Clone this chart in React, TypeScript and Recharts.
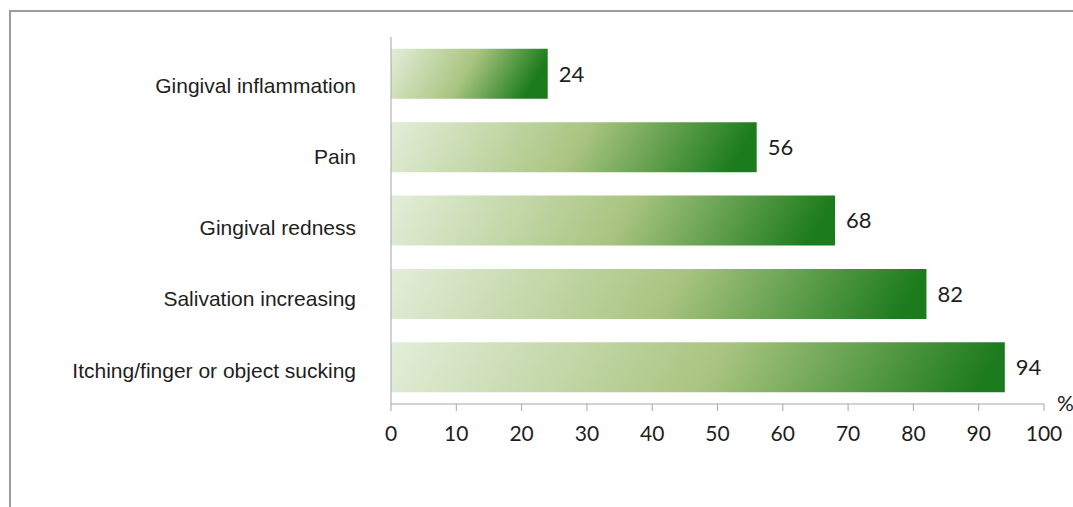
import React from "react";
import { BarChart, Bar, XAxis, YAxis, LabelList, Cell } from "recharts";

const categories = [
  "Gingival inflammation",
  "Pain",
  "Gingival redness",
  "Salivation increasing",
  "Itching/finger or object sucking",
];
const percentValues = [24, 56, 68, 82, 94];
const xTicks = [0, 10, 20, 30, 40, 50, 60, 70, 80, 90, 100];

const data = categories.map((name, i) => ({ name, value: percentValues[i] }));

const AXIS = "#a6a6a6";

// category labels in the original sit a bit lower than the bar centres, less so further down
function CategoryTick({ x, y, payload, index }: any) {
  const shift = 12 - 2.3 * index;
  return (
    <text
      x={x}
      y={y + shift}
      dy="0.355em"
      textAnchor="end"
      fontFamily="Liberation Sans"
      fontSize={21}
      fill="#1e1e1e"
    >
      {payload.value}
    </text>
  );
}

export default function App() {
  return (
    <div
      style={{
        position: "fixed",
        left: 0,
        top: 0,
        width: 1073,
        height: 507,
        overflow: "hidden",
        background: "#fff",
      }}
    >
      <div
        style={{
          position: "absolute",
          left: 9,
          top: 10,
          width: 1200,
          height: 700,
          border: "2px solid #9c9c9c",
          boxSizing: "border-box",
        }}
      />
      <div style={{ position: "absolute", left: 0, top: 0 }}>
        <BarChart
          width={1073}
          height={507}
          data={data}
          layout="vertical"
          margin={{ top: 37, right: 29, bottom: 63, left: 0 }}
          barCategoryGap="16%"
        >
          <defs>
            {percentValues.map((v, i) => (
              // keep the shading slant similar on short and long bars
              <linearGradient key={i} id={`green${i}`} x1="0" y1="0" x2="1" y2={Math.min(1, 4.5 / v)}>
                <stop offset="0%" stopColor="#e3eed9" />
                <stop offset="55%" stopColor="#a9c480" />
                <stop offset="100%" stopColor="#1c7b1c" />
              </linearGradient>
            ))}
          </defs>
          <XAxis
            type="number"
            domain={[0, 100]}
            ticks={xTicks}
            height={40}
            axisLine={{ stroke: AXIS }}
            tickLine={{ stroke: AXIS }}
            tickSize={7}
            tickMargin={15}
            tick={{ fontFamily: "Lato", fontSize: 21, fill: "#1e1e1e" }}
          />
          <YAxis
            type="category"
            dataKey="name"
            width={391}
            axisLine={{ stroke: AXIS }}
            tickLine={false}
            tickSize={0}
            tickMargin={35}
            tick={<CategoryTick />}
          />
          <Bar dataKey="value" isAnimationActive={false}>
            {data.map((d, i) => (
              <Cell key={d.name} fill={`url(#green${i})`} />
            ))}
            <LabelList
              dataKey="value"
              position="right"
              offset={11}
              style={{ fontFamily: "Lato", fontSize: 22, fill: "#1e1e1e" }}
            />
          </Bar>
        </BarChart>
      </div>
      <span
        style={{
          position: "absolute",
          left: 1057,
          top: 391,
          fontFamily: "Lato",
          fontSize: 21,
          color: "#1e1e1e",
          lineHeight: "24px",
        }}
      >
        %
      </span>
    </div>
  );
}
